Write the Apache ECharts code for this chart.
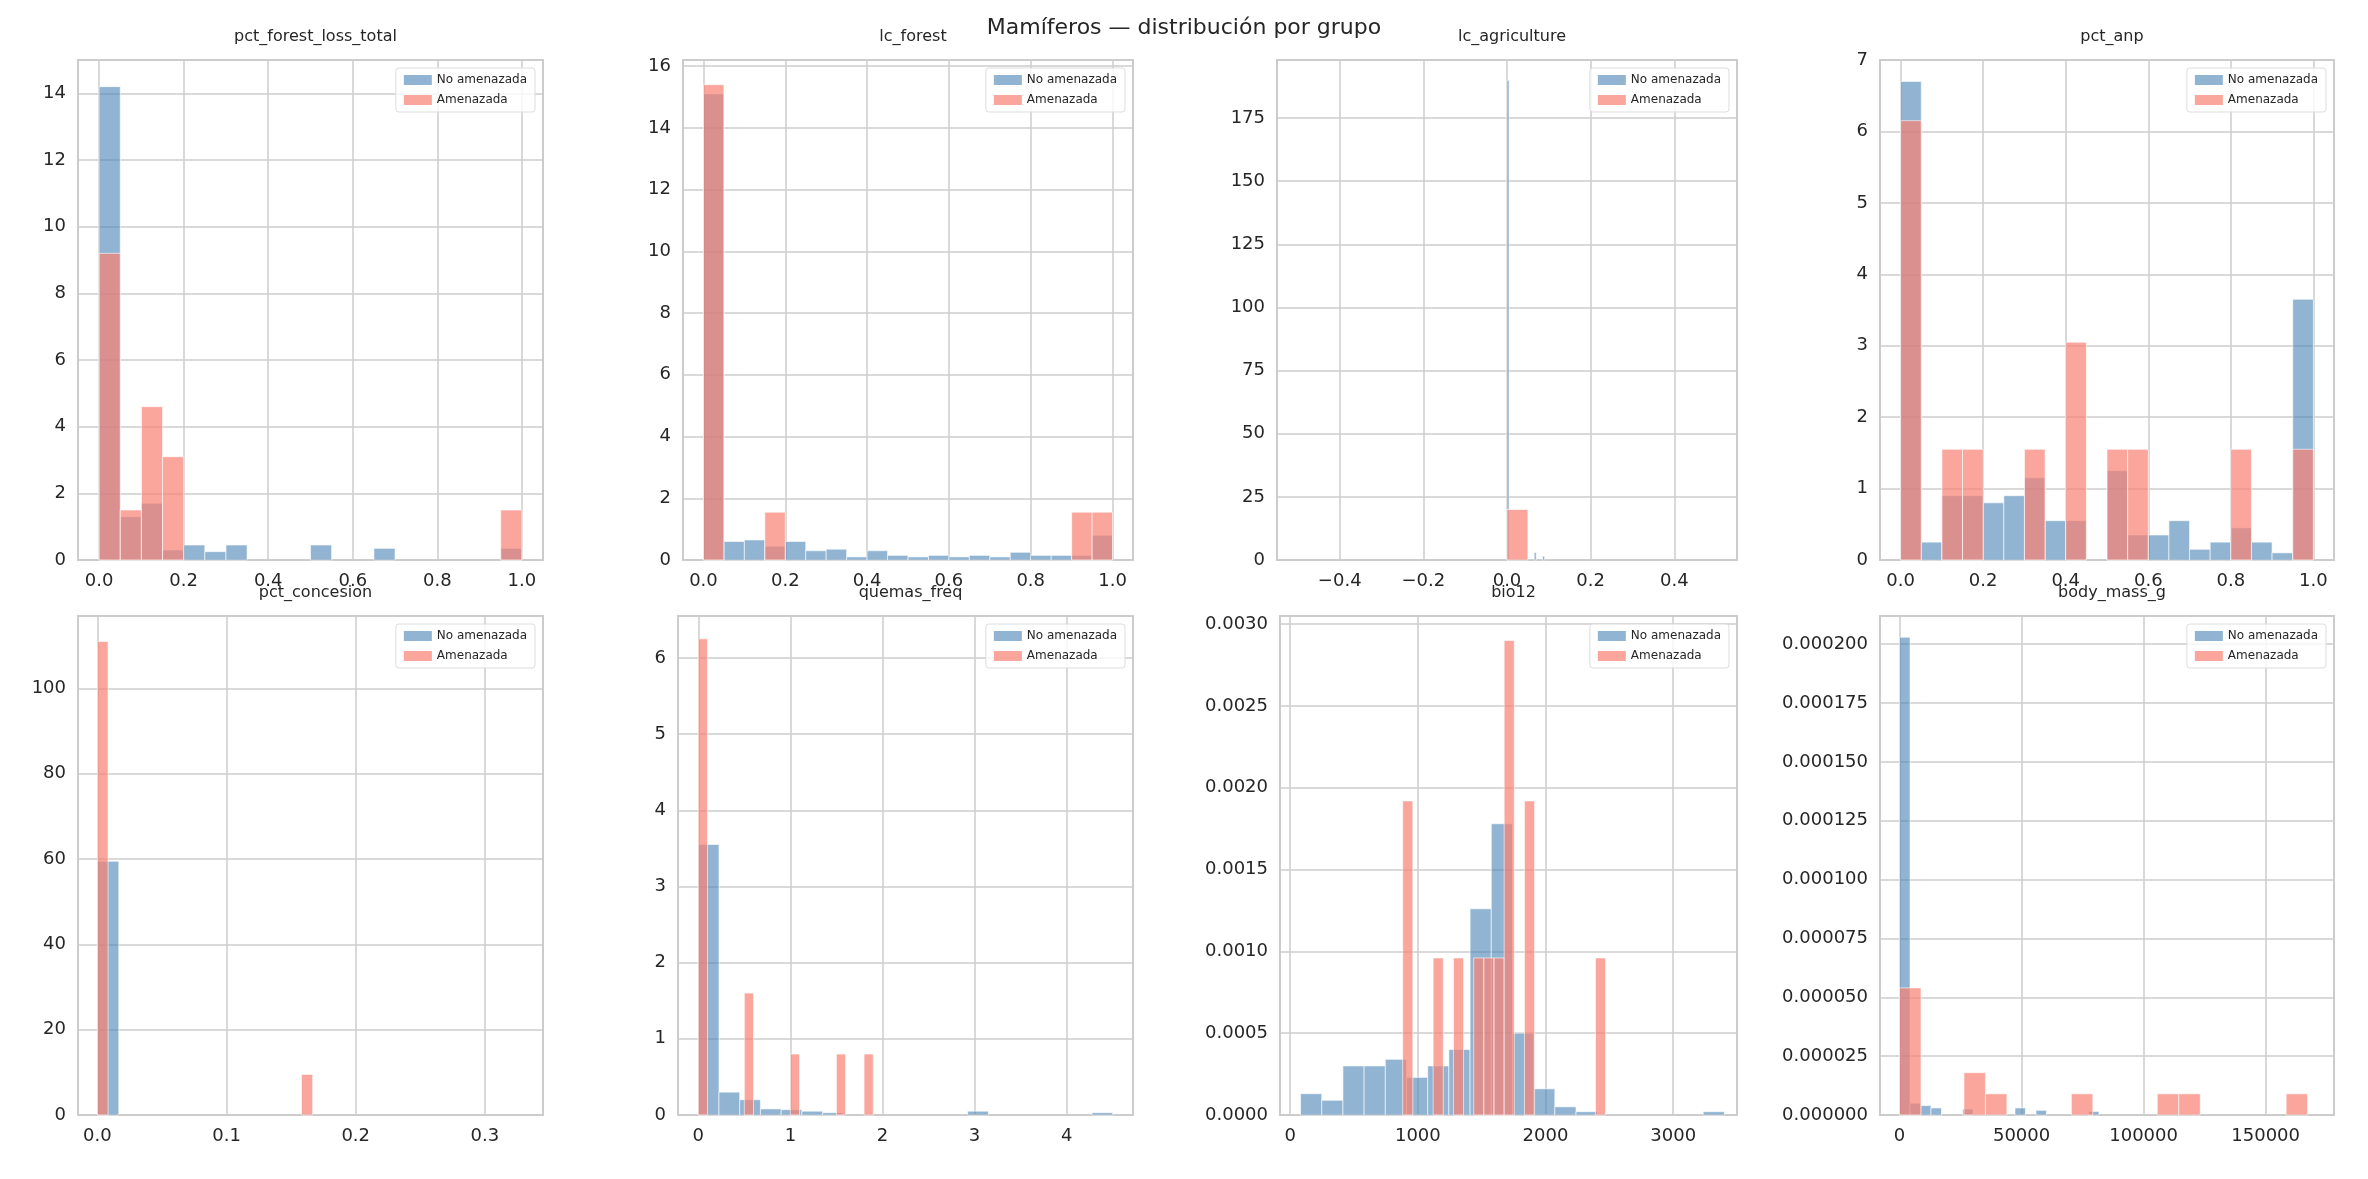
<!DOCTYPE html>
<html><head><meta charset="utf-8">
<script src="https://cdn.jsdelivr.net/npm/echarts@6/dist/echarts.min.js"></script>
<style>html,body{margin:0;padding:0;background:#fff}#c{width:2368px;height:1179px}</style>
</head><body><div id="c"></div>
<script>
// ---- data: bins are [start, end, density] ----
const titles = ["pct_forest_loss_total","lc_forest","lc_agriculture","pct_anp","pct_concesion","quemas_freq","bio12","body_mass_g"];
function binsFrom(start, width, counts){ return counts.map((v,i)=>[start+i*width, start+(i+1)*width, v]).filter(d=>d[2]>0); }
const p1Blue = [14.2,1.3,1.7,0.3,0.45,0.25,0.45,0,0,0,0.45,0,0,0.35,0,0,0,0,0,0.35];
const p1Red  = [9.2,1.5,4.6,3.1,0,0,0,0,0,0,0,0,0,0,0,0,0,0,0,1.5];
const p2Blue = [15.1,0.6,0.65,0.45,0.6,0.3,0.35,0.1,0.3,0.15,0.1,0.15,0.1,0.15,0.1,0.25,0.15,0.15,0.15,0.8];
const p2Red  = [15.4,0,0,1.55,0,0,0,0,0,0,0,0,0,0,0,0,0,0,1.55,1.55];
const p3Blue = [[0,0.005,190],[0.065,0.07,3],[0.085,0.09,1.5]];
const p3Red  = [[0,0.05,20]];
const p4Blue = [6.7,0.25,0.9,0.9,0.8,0.9,1.15,0.55,0.55,0,1.25,0.35,0.35,0.55,0.15,0.25,0.45,0.25,0.1,3.65];
const p4Red  = [6.15,0,1.55,1.55,0,0,1.55,0,3.05,0,1.55,1.55,0,0,0,0,1.55,0,0,1.55];
const p5Blue = [[0,0.0166,59.5]];
const p5Red  = [[0,0.0083,111],[0.158,0.1667,9.5]];
const p6Blue = [3.55,0.3,0.2,0.08,0.07,0.05,0.03,0,0,0,0,0,0,0.05,0,0,0,0,0,0.03];
const p6Red  = [6.25,0,0,0,0,1.6,0,0,0,0,0.8,0,0,0,0,0.8,0,0,0.8,0];
const p7Blue = [0.00013,0.00009,0.0003,0.0003,0.00034,0.00023,0.0003,0.0004,0.00126,0.00178,0.0005,0.00016,0.00005,0.00002,0,0,0,0,0,0.00002];
const p7Red  = [0.00192,0,0,0.00096,0,0.00096,0,0.00096,0.00096,0.00096,0.0029,0,0.00192,0,0,0,0,0,0,0.00096];
const p8Blue = [0.000203,0.000005,0.000004,0.000003,0,0,0.0000025,0,0,0,0,0.000003,0,0.000002,0,0,0,0,0.0000015];
const p8Red  = [0.000054,0,0,0.000018,0.000009,0,0,0,0.000009,0,0,0,0.000009,0.000009,0,0,0,0,0.000009];
const blueData = [binsFrom(0,0.05,p1Blue), binsFrom(0,0.05,p2Blue), p3Blue, binsFrom(0,0.05,p4Blue), p5Blue, binsFrom(0,0.225,p6Blue), binsFrom(81,166,p7Blue), binsFrom(0,4300,p8Blue)];
const redData  = [binsFrom(0,0.05,p1Red), binsFrom(0,0.05,p2Red), p3Red, binsFrom(0,0.05,p4Red), p5Red, binsFrom(0,0.1,p6Red), binsFrom(881,79.5,p7Red), binsFrom(0,8800,p8Red)];
const xRanges = [[-0.05,1.05],[-0.05,1.05],[-0.55,0.55],[-0.05,1.05],[-0.015,0.345],[-0.22,4.72],[-80,3500],[-8000,178000]];
const xSplit  = [5,5,5,5,4,4,3,3];
const xDec = [1,1,1,1,1,0,0,0];
const yMax = [15,16.2,198,7,117,6.55,0.00305,0.000212];
const yInt = [2,2,25,1,20,1,0.0005,0.000025];
const yDec = [0,0,0,0,0,0,4,6];
// ---- layout ----
const lefts = [[78,683,1277,1880],[78,678,1280,1880]];
const rights = [[543,1133,1737,2334],[543,1133,1737,2334]];
const tops = [60,616], bottoms=[560,1115];
const H = 1179, W = 2368;
const BLUE = 'rgba(70,130,180,0.6)', RED = 'rgba(250,128,114,0.7)';

const grid=[],xAxis=[],yAxis=[],series=[],title=[{text:'Mamíferos — distribución por grupo',left:'center',top:12,textStyle:{fontSize:22,fontWeight:'normal',color:'#262626',fontFamily:'DejaVu Sans'}}],legend=[];
function render(params, api){
  const a = api.coord([api.value(0),0]), b = api.coord([api.value(1),api.value(2)]);
  return {type:'rect',shape:{x:a[0],y:b[1],width:Math.max(b[0]-a[0],1.5),height:a[1]-b[1]},style:api.style({stroke:'rgba(255,255,255,0.6)',lineWidth:1})};
}
for(let i=0;i<8;i++){
  const r=Math.floor(i/4), c=i%4;
  const L=lefts[r][c], R=rights[r][c];
  const maxIsTick = Math.abs(yMax[i]/yInt[i]-Math.round(yMax[i]/yInt[i]))<1e-6;
  grid.push({left:L,width:R-L,top:tops[r],height:bottoms[r]-tops[r],show:true,borderColor:'#cccccc',borderWidth:2,containLabel:false});
  title.push({text:titles[i],left:(L+R)/2,textAlign:'center',top:tops[r]-36,textStyle:{fontSize:16,fontWeight:'normal',color:'#262626',fontFamily:'DejaVu Sans'}});
  xAxis.push({type:'value',gridIndex:i,min:xRanges[i][0],max:xRanges[i][1],splitNumber:xSplit[i],
    axisLine:{show:false},axisTick:{show:false},splitLine:{lineStyle:{color:'#cccccc',width:1.5}},
    axisLabel:{showMinLabel:false,showMaxLabel:false,fontSize:18,color:'#262626',margin:12,fontFamily:'DejaVu Sans',
      formatter:v=>{ if(Math.abs(v)<1e-12) v=0; return v.toFixed(xDec[i]).replace('-','−');}}});
  yAxis.push({type:'value',gridIndex:i,min:0,max:yMax[i],interval:yInt[i],
    axisLine:{show:false},axisTick:{show:false},splitLine:{lineStyle:{color:'#cccccc',width:1.5}},
    axisLabel:{showMaxLabel:maxIsTick,fontSize:18,color:'#262626',margin:12,fontFamily:'DejaVu Sans',formatter:v=>v.toFixed(yDec[i])}});
  series.push({name:'No amenazada',type:'custom',xAxisIndex:i,yAxisIndex:i,itemStyle:{color:BLUE},renderItem:render,data:blueData[i],encode:{x:[0,1],y:2}});
  series.push({name:'Amenazada',type:'custom',xAxisIndex:i,yAxisIndex:i,itemStyle:{color:RED},renderItem:render,data:redData[i],encode:{x:[0,1],y:2}});
  legend.push({data:['No amenazada','Amenazada'],orient:'vertical',right:W-R+8,top:tops[r]+8,itemWidth:28,itemHeight:10,itemGap:8,
    icon:'rect',borderColor:'#dddddd',borderWidth:1,borderRadius:3,padding:[6,8],backgroundColor:'rgba(255,255,255,0.8)',
    textStyle:{fontSize:12,color:'#262626',fontFamily:'DejaVu Sans'}});
}
const chart = echarts.init(document.getElementById('c'),null,{renderer:'canvas'});
chart.setOption({animation:false,backgroundColor:'#fff',title,grid,xAxis,yAxis,series,legend});
</script></body></html>
